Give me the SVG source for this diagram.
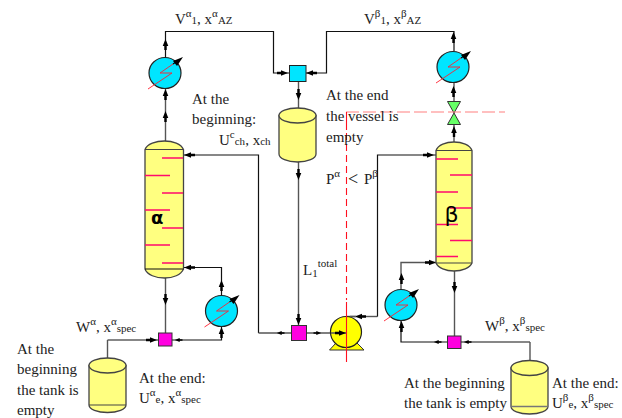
<svg xmlns="http://www.w3.org/2000/svg" xmlns:xlink="http://www.w3.org/1999/xlink" width="622" height="418" viewBox="0 0 622 418">
<style>
text{font-family:"Liberation Serif","Times New Roman",serif;font-size:15px;fill:#222}
.s{font-size:11px}
.c{fill:none;stroke:#111;stroke-width:1.2}
.g{fill:none;stroke:#555;stroke-width:1.4}
.v{fill:#ffff80;stroke:#444;stroke-width:1.3}
.l{fill:none;stroke:#444;stroke-width:1.2}
.t{stroke:#ff0a6e;stroke-width:1.6}
.hx{fill:#00e5ff;stroke:#222;stroke-width:1.2}
.ar{fill:#000}
.gr{fill:#000;font-family:"DejaVu Sans",sans-serif;font-size:18px}
</style>
<defs>
<polygon id="u" class="ar" points="0,-6 2.8,1 1.200,1 1.200,5 -1.200,5 -1.200,1 -2.800,1"/>
<polygon id="d" class="ar" points="0,6 2.800,-1 1.200,-1 1.200,-5 -1.200,-5 -1.200,-1 -2.800,-1"/>
<polygon id="r" class="ar" points="6,0 -1,2.800 -1,1.200 -5,1.200 -5,-1.200 -1,-1.200 -1,-2.800"/>
<polygon id="le" class="ar" points="-6,0 1,2.800 1,1.200 5,1.200 5,-1.200 1,-1.200 1,-2.800"/>
<g id="hxs">
<ellipse class="hx" cx="0" cy="0" rx="16" ry="15.500"/>
<polyline points="-17,16 7,0 -5,0 8,-9" fill="none" stroke="#ff2030" stroke-width="0.9"/>
<line x1="8" y1="-9" x2="14" y2="-13" stroke="#000" stroke-width="1.200"/>
<polygon points="18,-16 8,-12 12,-7" fill="#000"/>
</g>
</defs>
<g id="connectors">
<path class="c" d="M165.500,57V31.500H273.500V73H289"/>
<path class="c" d="M165.500,57V89"/>
<path class="g" d="M165.500,89V141"/>
<path class="c" d="M306,73H326.500V31.500H454V51"/>
<path class="g" d="M298.500,81V108"/>
<path class="g" d="M298.500,162V325"/>
<path class="g" d="M454,83V101M454,124V142"/>
<path class="c" d="M183.500,155H258.500V333"/>
<path class="g" d="M258.500,333H291M307,333H331"/>
<path class="c" d="M183.500,267.500H221.500V296"/>
<path class="g" d="M165.500,278V333"/>
<path class="c" d="M172,340H221.500V327"/>
<path class="c" d="M158,340H107.500"/>
<path class="g" d="M107.500,340V358"/>
<path class="g" d="M346,316.500H377.500"/>
<path class="c" d="M377.500,316.500V155H436"/>
<path class="g" d="M401,290V262.500H436"/>
<path class="c" d="M401,321V342H447M461,342H530"/>
<path class="g" d="M530,342V361"/>
<path class="g" d="M454.500,271V336"/>
<g>
<use href="#u" x="165.500" y="45"/><use href="#u" x="165.500" y="95"/><use href="#u" x="165.500" y="117"/>
<use href="#r" x="282" y="73"/><use href="#le" x="312" y="73"/><use href="#d" x="298.500" y="94"/>
<use href="#u" x="453.500" y="38"/><use href="#u" x="453.500" y="92"/><use href="#u" x="454" y="132"/>
<use href="#le" x="190" y="155"/><use href="#le" x="190" y="267.500"/>
<use href="#d" x="298.500" y="174"/><use href="#d" x="298.500" y="319"/>
<use href="#le" x="281" y="333" transform="translate(281 333) scale(.7) translate(-281 -333)"/>
<use href="#r" x="317" y="333" transform="translate(317 333) scale(.7) translate(-317 -333)"/>
<use href="#le" x="361" y="316.500"/>
<use href="#r" x="428" y="155"/><use href="#r" x="430" y="262.500"/>
<use href="#u" x="221.500" y="286"/><use href="#u" x="221.500" y="333"/>
<use href="#d" x="165.500" y="299"/>
<use href="#r" x="151" y="340"/><use href="#le" x="179" y="340" transform="translate(179 340) scale(.7) translate(-179 -340)"/>
<use href="#u" x="401.500" y="279"/><use href="#u" x="401.500" y="327"/>
<use href="#d" x="454.500" y="287"/>
<use href="#le" x="438" y="342" transform="translate(438 342) scale(.7) translate(-438 -342)"/>
<use href="#le" x="468" y="342" transform="translate(468 342) scale(.7) translate(-468 -342)"/>
</g>
</g>
<g id="condenser-alpha"><use href="#hxs" x="165" y="73"/></g>
<g id="condenser-beta"><use href="#hxs" x="453" y="67"/></g>
<g id="reboiler-alpha"><use href="#hxs" x="221.500" y="311"/></g>
<g id="reboiler-beta"><use href="#hxs" x="401" y="305"/></g>
<g id="mixer-top"><rect x="289.500" y="65.500" width="16.500" height="16" fill="#00e5ff" stroke="#222" stroke-width="1"/></g>
<g id="mixer-pump"><rect x="291.500" y="325.500" width="15" height="15" fill="#ff00e0" stroke="#333" stroke-width="1"/></g>
<g id="mixer-alpha"><rect x="158.500" y="333" width="13.500" height="13" fill="#ff00e0" stroke="#333" stroke-width="1"/></g>
<g id="mixer-beta"><rect x="447.500" y="336" width="13.500" height="12.500" fill="#ff00e0" stroke="#333" stroke-width="1"/></g>
<g id="valve">
<polygon points="447.500,101.500 460.500,101.500 454,113" fill="#66ff66" stroke="#333"/>
<polygon points="454,113 447.500,124.500 460.500,124.500" fill="#66ff66" stroke="#333"/>
</g>
<g id="vessel">
<path class="v" d="M279,115.500V154A18.500,8 0 0 0 316,154V115.500Z"/>
<ellipse class="v" cx="297.500" cy="115.500" rx="18.500" ry="7.500"/>
</g>
<g id="tank-alpha">
<path class="v" d="M89,365.500V405A18.500,7.500 0 0 0 126,405V365.500Z"/>
<ellipse class="v" cx="107.500" cy="365.500" rx="18.500" ry="7.500"/>
<line class="l" x1="89" y1="405" x2="126" y2="405"/>
</g>
<g id="tank-beta">
<path class="v" d="M511,368V406.500A18.500,7.500 0 0 0 548,406.500V368Z"/>
<ellipse class="v" cx="529.500" cy="368" rx="18.500" ry="7.500"/>
<line x1="511" y1="406.500" x2="548" y2="406.500" stroke="#777" stroke-width="1.300"/>
</g>
<g id="column-alpha">
<path class="v" d="M145,149.500C147,144 156,141 164.500,141C173,141 181,144 183.500,149.500V269C181,275 173,278 164.500,278C156,278 147,275 145,269Z"/>
<line class="l" x1="145" y1="149.500" x2="183.500" y2="149.500"/>
<line x1="145" y1="269" x2="183.500" y2="269" stroke="#111" stroke-width="1.200"/>
<path class="t" d="M162,158H183M145,175.500H170M162,193H183M145,210H170M162,228H183M145,245H170M162,263H183"/>
<text class="gr" x="151" y="224" style="font-weight:bold">α</text>
</g>
<g id="column-beta">
<path class="v" d="M436,150.500C438,145 446,142 454,142C462,142 470,145 472,150.500V263C470,268 462,271 454,271C446,271 438,268 436,263Z"/>
<line class="l" x1="436" y1="150.500" x2="472" y2="150.500"/>
<line class="l" x1="436" y1="263" x2="472" y2="263"/>
<path class="t" d="M436,159H458M450,175H472M436,192H458M450,208H472M436,224.500H458M450,240.500H472M436,256.500H458"/>
<text class="gr" x="444.500" y="222" style="font-size:22px">β</text>
</g>
<g id="pump">
<path d="M329.500,350L336,343H357L364,350Z" fill="#ffff00" stroke="#333" stroke-width="1"/>
<circle cx="346" cy="332" r="15.500" fill="#ffff00" stroke="#222" stroke-width="1.200"/>
<path class="g" d="M331,333H346M350,316.500H356"/>
<use href="#r" x="340" y="333"/>
</g>
<g id="divider" fill="none">
<path d="M346,112H505" stroke="#ff8080" stroke-width="1.200" stroke-dasharray="13 4"/>
<path d="M346.500,112V130M346.500,302V362" stroke="#ff1020" stroke-width="1.100"/>
<path d="M346.500,133V300" stroke="#ff1020" stroke-width="1.100" stroke-dasharray="7 4"/>
</g>
<g id="labels">
<text x="175" y="24">V<tspan class="s" dy="-7">α</tspan><tspan class="s" dy="7">1</tspan>, x<tspan class="s" dy="-7">α</tspan><tspan class="s" dy="7">AZ</tspan></text>
<text x="364" y="24">V<tspan class="s" dy="-7">β</tspan><tspan class="s" dy="7">1</tspan>, x<tspan class="s" dy="-7">β</tspan><tspan class="s" dy="7">AZ</tspan></text>
<text x="192" y="104">At the</text>
<text x="192" y="124">beginning:</text>
<text x="219" y="145">U<tspan class="s" dy="-7">c</tspan><tspan class="s" dy="7">ch</tspan>, x<tspan class="s">ch</tspan></text>
<text x="326" y="100">At the end</text>
<text x="326" y="121">the vessel is</text>
<text x="326" y="142">empty</text>
<text x="326" y="184">P<tspan class="s" dy="-7">α</tspan></text>
<text x="348" y="185" style="font-size:18px">&lt;</text>
<text x="364" y="184">P<tspan class="s" dy="-7">β</tspan></text>
<text x="303" y="275">L<tspan class="s" dy="2">1</tspan><tspan class="s" dy="-10">total</tspan></text>
<text x="76" y="332">W<tspan class="s" dy="-7">α</tspan><tspan dy="7">, x</tspan><tspan class="s" dy="-7">α</tspan><tspan class="s" dy="7">spec</tspan></text>
<text x="485" y="331">W<tspan class="s" dy="-7">β</tspan><tspan dy="7">, x</tspan><tspan class="s" dy="-7">β</tspan><tspan class="s" dy="7">spec</tspan></text>
<text x="17" y="354">At the</text>
<text x="17" y="374">beginning</text>
<text x="17" y="395">the tank is</text>
<text x="17" y="415">empty</text>
<text x="139" y="383">At the end:</text>
<text x="139" y="403">U<tspan class="s" dy="-7">α</tspan><tspan class="s" dy="7">e</tspan>, x<tspan class="s" dy="-7">α</tspan><tspan class="s" dy="7">spec</tspan></text>
<text x="404" y="388">At the beginning</text>
<text x="404" y="408">the tank is empty</text>
<text x="552" y="388">At the end:</text>
<text x="552" y="408">U<tspan class="s" dy="-7">β</tspan><tspan class="s" dy="7">e</tspan>, x<tspan class="s" dy="-7">β</tspan><tspan class="s" dy="7">spec</tspan></text>
</g>
</svg>
